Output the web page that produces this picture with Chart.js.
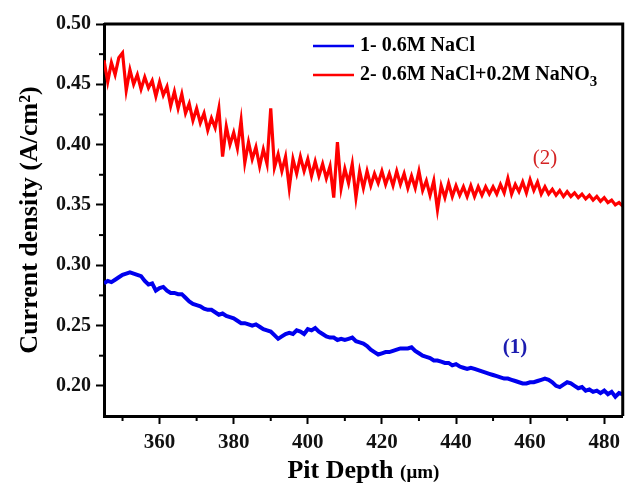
<!DOCTYPE html>
<html>
<head>
<meta charset="utf-8">
<script src="https://cdn.jsdelivr.net/npm/chart.js@4.4.1/dist/chart.umd.min.js"></script>
<style>
  html, body { margin: 0; padding: 0; background: #fff; }
</style>
</head>
<body>
<canvas id="pit-chart" width="626" height="484"></canvas>
<script>
// pit depth (um)
var depth = [
  345, 346, 347, 348, 349, 350, 351, 352, 353, 354,
  355, 356, 357, 358, 359, 360, 361, 362, 363, 364,
  365, 366, 367, 368, 369, 370, 371, 372, 373, 374,
  375, 376, 377, 378, 379, 380, 381, 382, 383, 384,
  385, 386, 387, 388, 389, 390, 391, 392, 393, 394,
  395, 396, 397, 398, 399, 400, 401, 402, 403, 404,
  405, 406, 407, 408, 409, 410, 411, 412, 413, 414,
  415, 416, 417, 418, 419, 420, 421, 422, 423, 424,
  425, 426, 427, 428, 429, 430, 431, 432, 433, 434,
  435, 436, 437, 438, 439, 440, 441, 442, 443, 444,
  445, 446, 447, 448, 449, 450, 451, 452, 453, 454,
  455, 456, 457, 458, 459, 460, 461, 462, 463, 464,
  465, 466, 467, 468, 469, 470, 471, 472, 473, 474,
  475, 476, 477, 478, 479, 480, 481, 482, 483, 484,
  485
];

// 1- 0.6M NaCl
var naclOnly = [
  0.285, 0.287, 0.286, 0.288, 0.290, 0.292, 0.293, 0.294, 0.293, 0.292,
  0.291, 0.287, 0.284, 0.285, 0.279, 0.281, 0.282, 0.279, 0.277, 0.277,
  0.276, 0.276, 0.273, 0.270, 0.268, 0.267, 0.266, 0.264, 0.263, 0.263,
  0.261, 0.259, 0.260, 0.258, 0.257, 0.256, 0.254, 0.252, 0.252, 0.251,
  0.250, 0.251, 0.249, 0.247, 0.246, 0.245, 0.242, 0.239, 0.241, 0.243,
  0.244, 0.243, 0.246, 0.245, 0.243, 0.247, 0.246, 0.248, 0.245, 0.243,
  0.241, 0.240, 0.240, 0.238, 0.239, 0.238, 0.239, 0.240, 0.237, 0.236,
  0.235, 0.233, 0.230, 0.228, 0.226, 0.227, 0.228, 0.228, 0.229, 0.230,
  0.231, 0.231, 0.231, 0.232, 0.229, 0.227, 0.225, 0.224, 0.223, 0.221,
  0.221, 0.220, 0.219, 0.219, 0.217, 0.218, 0.216, 0.215, 0.214, 0.215,
  0.214, 0.213, 0.212, 0.211, 0.210, 0.209, 0.208, 0.207, 0.206, 0.206,
  0.205, 0.204, 0.203, 0.202, 0.202, 0.203, 0.203, 0.204, 0.205, 0.206,
  0.205, 0.203, 0.200, 0.199, 0.201, 0.203, 0.202, 0.200, 0.198, 0.199,
  0.196, 0.197, 0.195, 0.196, 0.194, 0.196, 0.193, 0.195, 0.191, 0.194,
  0.193
];

// 2- 0.6M NaCl+0.2M NaNO3
var naclNitrate = [
  0.470, 0.452, 0.468, 0.458, 0.472, 0.476, 0.445, 0.462, 0.450, 0.458,
  0.446, 0.456, 0.447, 0.453, 0.440, 0.452, 0.441, 0.448, 0.432, 0.444,
  0.430, 0.442, 0.426, 0.434, 0.420, 0.430, 0.418, 0.426, 0.412, 0.422,
  0.414, 0.430, 0.390, 0.415, 0.400, 0.410, 0.397, 0.420, 0.385, 0.402,
  0.388, 0.398, 0.382, 0.396, 0.384, 0.430, 0.381, 0.392, 0.378, 0.390,
  0.364, 0.388, 0.376, 0.390, 0.378, 0.388, 0.374, 0.386, 0.374, 0.384,
  0.372, 0.382, 0.356, 0.402, 0.364, 0.380, 0.368, 0.384, 0.356, 0.378,
  0.364, 0.378, 0.366, 0.376, 0.368, 0.378, 0.367, 0.376, 0.366, 0.378,
  0.367, 0.376, 0.364, 0.374, 0.364, 0.378, 0.362, 0.370, 0.358, 0.370,
  0.346, 0.366, 0.356, 0.368, 0.357, 0.366, 0.358, 0.365, 0.357, 0.366,
  0.357, 0.365, 0.358, 0.365, 0.359, 0.365, 0.359, 0.367, 0.360, 0.372,
  0.359, 0.367, 0.361, 0.369, 0.360, 0.371, 0.362, 0.369, 0.359, 0.365,
  0.359, 0.363, 0.358, 0.362, 0.357, 0.361, 0.357, 0.360, 0.356, 0.359,
  0.355, 0.358, 0.354, 0.357, 0.353, 0.356, 0.352, 0.354, 0.350, 0.352,
  0.349
];

var xTicks = [360, 380, 400, 420, 440, 460, 480];
var xMinor = [350, 370, 390, 410, 430, 450, 470];
var yTicks = [0.20, 0.25, 0.30, 0.35, 0.40, 0.45, 0.50];
var yMinor = [0.225, 0.275, 0.325, 0.375, 0.425, 0.475];

var serif = '"Liberation Serif", "Times New Roman", serif';

function toPoints(values) {
  return depth.map(function (d, i) {
    return { x: d, y: values[i] };
  });
}

// frame, minor ticks, legend and text labels
var decorations = {
  id: 'decorations',
  afterDraw: function (chart) {
    var ctx = chart.ctx;
    var area = chart.chartArea;
    var xs = chart.scales.x;
    var ys = chart.scales.y;
    ctx.save();

    ctx.strokeStyle = '#000';
    ctx.lineWidth = 2;
    xMinor.forEach(function (v) {
      var px = xs.getPixelForValue(v);
      ctx.beginPath();
      ctx.moveTo(px, area.bottom);
      ctx.lineTo(px, area.bottom + 5);
      ctx.stroke();
    });
    yMinor.forEach(function (v) {
      var py = ys.getPixelForValue(v);
      ctx.beginPath();
      ctx.moveTo(area.left, py);
      ctx.lineTo(area.left - 5, py);
      ctx.stroke();
    });

    ctx.lineWidth = 3;
    ctx.beginPath();
    ctx.moveTo(area.left, area.top);
    ctx.lineTo(area.right, area.top);
    ctx.lineTo(area.right, area.bottom);
    ctx.stroke();

    // legend
    ctx.textBaseline = 'middle';
    ctx.textAlign = 'left';
    ctx.lineWidth = 2.5;
    ctx.strokeStyle = '#0000ee';
    ctx.beginPath();
    ctx.moveTo(313, 46);
    ctx.lineTo(354, 46);
    ctx.stroke();
    ctx.strokeStyle = '#ff0000';
    ctx.beginPath();
    ctx.moveTo(313, 75);
    ctx.lineTo(354, 75);
    ctx.stroke();

    ctx.fillStyle = '#000';
    ctx.font = 'bold 20px ' + serif;
    ctx.fillText('1- 0.6M NaCl', 360, 46);
    var t2 = '2- 0.6M NaCl+0.2M NaNO';
    ctx.fillText(t2, 360, 75);
    var w2 = ctx.measureText(t2).width;
    ctx.font = 'bold 15px ' + serif;
    ctx.fillText('3', 360 + w2, 82);

    // curve labels
    ctx.textAlign = 'center';
    ctx.font = '21px ' + serif;
    ctx.fillStyle = '#d42424';
    ctx.fillText('(2)', 545, 158);
    ctx.font = 'bold 21px ' + serif;
    ctx.fillStyle = '#1c1cb0';
    ctx.fillText('(1)', 515, 348);

    // x axis title
    ctx.fillStyle = '#000';
    ctx.textBaseline = 'alphabetic';
    ctx.textAlign = 'left';
    var main = 'Pit Depth ';
    var unit = '(\u03BCm)';
    ctx.font = 'bold 26px ' + serif;
    var wMain = ctx.measureText(main).width;
    ctx.font = 'bold 19px ' + serif;
    var wUnit = ctx.measureText(unit).width;
    var cx = (area.left + area.right) / 2;
    var startX = cx - (wMain + wUnit) / 2;
    ctx.font = 'bold 26px ' + serif;
    ctx.fillText(main, startX, 478);
    ctx.font = 'bold 19px ' + serif;
    ctx.fillText(unit, startX + wMain, 478);

    ctx.restore();
  }
};

new Chart(document.getElementById('pit-chart'), {
  type: 'line',
  data: {
    datasets: [{
      label: '1- 0.6M NaCl',
      data: toPoints(naclOnly),
      borderColor: '#0000ee',
      borderWidth: 4,
      pointRadius: 0,
      tension: 0
    }, {
      label: '2- 0.6M NaCl+0.2M NaNO3',
      data: toPoints(naclNitrate),
      borderColor: '#ff0000',
      borderWidth: 3.2,
      pointRadius: 0,
      tension: 0
    }]
  },
  options: {
    responsive: false,
    animation: false,
    layout: {
      padding: { top: 24, right: 1, left: 0, bottom: 0 }
    },
    plugins: {
      legend: { display: false },
      tooltip: { enabled: false }
    },
    scales: {
      x: {
        type: 'linear',
        min: 345,
        max: 485,
        afterFit: function (scale) { scale.height = 68; },
        afterBuildTicks: function (scale) {
          scale.ticks = xTicks.map(function (v) { return { value: v }; });
        },
        border: { color: '#000', width: 3 },
        grid: {
          drawOnChartArea: false,
          tickLength: 8,
          tickWidth: 2,
          tickColor: '#000'
        },
        ticks: {
          padding: 6,
          color: '#111',
          font: { family: serif, size: 21, weight: 'bold' },
          callback: function (v) { return v; }
        }
      },
      y: {
        min: 0.175,
        max: 0.5,
        afterFit: function (scale) { scale.width = 104; },
        afterBuildTicks: function (scale) {
          scale.ticks = yTicks.map(function (v) { return { value: v }; });
        },
        border: { color: '#000', width: 3 },
        grid: {
          drawOnChartArea: false,
          tickLength: 8,
          tickWidth: 2,
          tickColor: '#000'
        },
        ticks: {
          padding: 5,
          color: '#111',
          font: { family: serif, size: 20, weight: 'bold' },
          callback: function (v) { return v.toFixed(2); }
        },
        title: {
          display: true,
          text: 'Current density (A/cm\u00B2)',
          color: '#000',
          font: { family: serif, size: 26, weight: 'bold' },
          padding: { top: 15, bottom: 0 }
        }
      }
    }
  },
  plugins: [decorations]
});
</script>
</body>
</html>
